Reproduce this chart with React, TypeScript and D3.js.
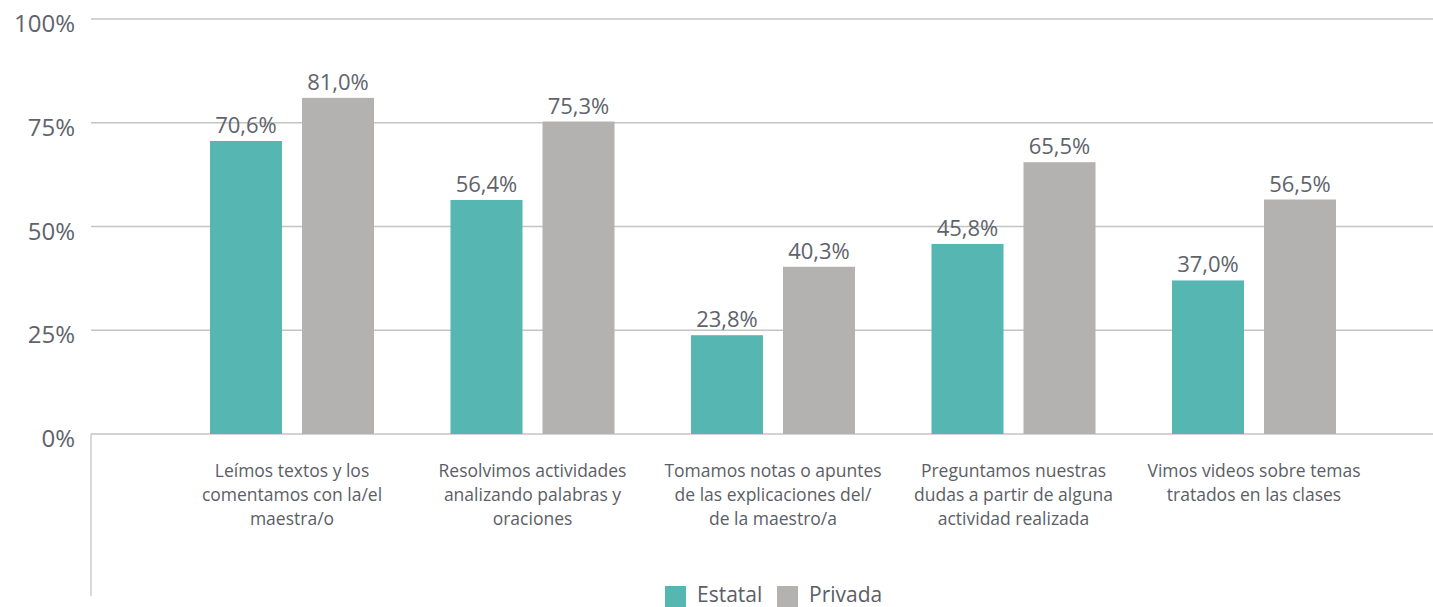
import React, { useRef, useEffect } from 'react';
import * as d3 from 'd3';

// Data
const categories = [
  ['Leímos textos y los', 'comentamos con la/el', 'maestra/o'],
  ['Resolvimos actividades', 'analizando palabras y', 'oraciones'],
  ['Tomamos notas o apuntes', 'de las explicaciones del/', 'de la maestro/a'],
  ['Preguntamos nuestras', 'dudas a partir de alguna', 'actividad realizada'],
  ['Vimos videos sobre temas', 'tratados en las clases'],
];
const seriesNames = ['Estatal', 'Privada'];
const estatal = [70.6, 56.4, 23.8, 45.8, 37.0];
const privada = [81.0, 75.3, 40.3, 65.5, 56.5];
const yTicks = [0, 25, 50, 75, 100];
const colors = ['#56b6b1', '#b3b2b1'];

const App = () => {
  const svgRef = useRef<SVGSVGElement>(null);

  useEffect(() => {
    const width = 1433;
    const height = 607;
    const font = '"Open Sans", sans-serif';
    const textColor = '#5b5e66';

    const svg = d3.select(svgRef.current)
      .attr('width', width)
      .attr('height', height);
    svg.selectAll('*').remove();

    const keys = categories.map((c, i) => 'c' + i);

    // Scales
    const x0 = d3.scaleBand().domain(keys).range([171.75, 1374.25]).padding(0);
    const x1 = d3.scaleBand().domain(seriesNames).range([0, 164]).paddingInner(20 / 92).paddingOuter(0);
    const y = d3.scaleLinear().domain([0, 100]).range([434, 19]);

    // Gridlines
    svg.append('g')
      .selectAll('line')
      .data(yTicks)
      .join('line')
      .attr('x1', 91)
      .attr('x2', width)
      .attr('y1', d => y(d))
      .attr('y2', d => y(d))
      .attr('stroke', '#c4c4c4')
      .attr('stroke-width', 1.3);

    // Left line below zero
    svg.append('line')
      .attr('x1', 91).attr('x2', 91)
      .attr('y1', y(0)).attr('y2', 596)
      .attr('stroke', '#c4c4c4')
      .attr('stroke-width', 1.3);

    // Y tick labels
    svg.append('g')
      .selectAll('text')
      .data(yTicks)
      .join('text')
      .attr('x', 75)
      .attr('y', d => y(d) + 13)
      .attr('text-anchor', 'end')
      .attr('font-family', font)
      .attr('font-size', 24)
      .attr('fill', '#60636b')
      .text(d => d + '%');

    // Bars
    const groups = svg.append('g')
      .selectAll('g')
      .data(keys)
      .join('g')
      .attr('transform', k => `translate(${(x0(k) as number) + x0.bandwidth() / 2 - 82},0)`);

    const values = [estatal, privada];
    groups.each(function (k, i) {
      const g = d3.select(this);
      seriesNames.forEach((s, j) => {
        const v = values[j][i];
        g.append('rect')
          .attr('x', x1(s) as number)
          .attr('width', x1.bandwidth())
          .attr('y', y(v))
          .attr('height', y(0) - y(v))
          .attr('fill', colors[j]);
        g.append('text')
          .attr('x', (x1(s) as number) + x1.bandwidth() / 2)
          .attr('y', y(v) - 8)
          .attr('text-anchor', 'middle')
          .attr('font-family', font)
          .attr('font-size', 22)
          .attr('fill', '#60636b')
          .text(v.toFixed(1).replace('.', ',') + '%');
      });
      // Category label
      const t = g.append('text')
        .attr('text-anchor', 'middle')
        .attr('font-family', font)
        .attr('font-size', 17.5)
        .attr('fill', textColor);
      categories[i].forEach((line, li) => {
        t.append('tspan')
          .attr('x', 82)
          .attr('y', 477 + li * 24)
          .text(line);
      });
    });

    // Legend
    const legend = svg.append('g');
    const legendX = [665, 777];
    seriesNames.forEach((s, j) => {
      legend.append('rect')
        .attr('x', legendX[j])
        .attr('y', 586)
        .attr('width', 21)
        .attr('height', 21)
        .attr('fill', colors[j]);
      legend.append('text')
        .attr('x', legendX[j] + 32)
        .attr('y', 602)
        .attr('font-family', font)
        .attr('font-size', 21)
        .attr('fill', textColor)
        .text(s);
    });
  }, []);

  return (
    <div style={{ position: 'absolute', left: 0, top: 0 }}>
      <svg ref={svgRef}></svg>
    </div>
  );
};

export default App;
